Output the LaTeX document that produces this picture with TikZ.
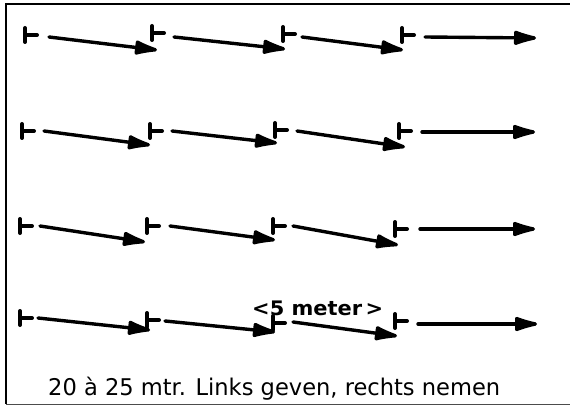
\documentclass[tikz,border=0pt]{standalone}
\usepackage{fontspec}
\setmainfont{DejaVu Sans}
\usetikzlibrary{arrows.meta}
\usepackage{graphicx}
\newsavebox\capbox
\newsavebox\distbox
\tikzset{
  marker/.style={line width=4pt, line cap=round},
  arr/.style={line width=3.4pt, line cap=round, -{Latex[length=30pt,width=16pt,round]}},
  frameline/.style={line width=1.8pt}
}
\begin{document}
\sbox\capbox{\fontsize{23}{27}\selectfont 20 à 25 mtr. Links geven, rechts nemen}%
\sbox\distbox{\fontsize{20}{24}\selectfont\bfseries <5 meter\,>}%
\begin{tikzpicture}[x=1pt,y=-1pt]
\useasboundingbox (0,0) rectangle (570,406);
% frame
\coordinate (tl) at (6,4);
\coordinate (tr) at (570,4);
\coordinate (bl) at (6,404);
\coordinate (br) at (570,404);
\draw[frameline] (tr) -- (tl) -- (bl);
\draw[line width=1pt, black!70] (bl) -- (br);
% markers
\foreach \n/\x/\y in {m11/25/35, m12/152/33, m13/283/34, m14/402/35,
                      m21/22/131, m22/150/131, m23/275/130, m24/399/131,
                      m31/20/226, m32/147/226, m33/273/226, m34/395/229,
                      m41/20/318, m42/147/320, m43/273/323, m44/395/321}{
  \coordinate (\n) at (\x,\y);
  \draw[marker] ([yshift=-7pt]\n) -- ([yshift=7pt]\n);
  \draw[marker] (\n) -- ([xshift=12pt]\n);
}
% arrows
\foreach \n/\sx/\sy/\ex/\ey in {a11/49/37/157/50, a12/174/37/285/49, a13/302/37/403/50, a14/425/37/536/38,
                                a21/44/131/150/145, a22/172/131/277/143, a23/297/131/405/147, a24/422/132/535/132,
                                a31/40/226/145/242, a32/170/226/275/240, a33/293/226/398/245, a34/420/229/535/229,
                                a41/38/318/150/330, a42/165/321/275/332, a43/293/322/397/336, a44/418/324/537/324}{
  \coordinate (\n s) at (\sx,\sy);
  \coordinate (\n e) at (\ex,\ey);
  \draw[arr] (\n s) -- (\n e);
}
% texts
\pgfmathsetmacro\capscale{452/\wd\capbox}
\pgfmathsetmacro\distscale{131/\wd\distbox}
\node[anchor=base west, inner sep=0pt] (dist) at (252,315) {\scalebox{\distscale}[1]{\usebox\distbox}};
\node[anchor=base west, inner sep=0pt] (caption) at (48,395) {\scalebox{\capscale}[1]{\usebox\capbox}};
\end{tikzpicture}
\end{document}
